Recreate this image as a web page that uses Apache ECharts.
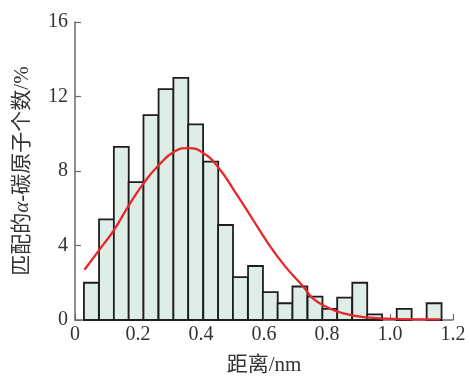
<!DOCTYPE html>
<html>
<head>
<meta charset="utf-8">
<script src="https://cdn.jsdelivr.net/npm/echarts@6/dist/echarts.min.js"></script>
<style>html,body{margin:0;padding:0;background:#fff}#c{width:470px;height:381px}</style>
</head>
<body>
<div id="c"></div>
<script>
// Histogram bins (centre in nm) and percentages
const binCenters = [0.052, 0.100, 0.147, 0.194, 0.241, 0.289, 0.336, 0.383, 0.431, 0.478, 0.525, 0.573,
                    0.620, 0.667, 0.714, 0.762, 0.809, 0.856, 0.904, 0.951, 0.998, 1.045, 1.093, 1.140];
const binWidth = 0.0473;
const binValues = [2.0, 5.4, 9.3, 7.4, 11.0, 12.4, 13.0, 10.5, 8.5, 5.1, 2.3, 2.9,
                   1.5, 0.9, 1.8, 1.25, 0.6, 1.2, 2.0, 0.3, 0, 0.6, 0, 0.9];
// Fitted curve
const fitX = [0.030, 0.076, 0.122, 0.169, 0.217, 0.264, 0.317, 0.360, 0.407, 0.455, 0.508, 0.561,
              0.614, 0.667, 0.725, 0.757, 0.799, 0.852, 0.926, 1.032, 1.159];
const fitY = [2.70, 3.74, 4.79, 6.10, 7.32, 8.28, 9.06, 9.23, 8.97, 8.19, 6.88, 5.49,
              4.09, 2.88, 1.79, 1.13, 0.70, 0.35, 0.14, 0.05, 0.03];
const xTicks = {min: 0, max: 1.2, interval: 0.2};
const yTicks = {min: 0, max: 16, interval: 4};
const xName = '距离/nm';
const yName = '匹配的{a|α}-碳原子个数/%';

const chart = echarts.init(document.getElementById('c'), null, {renderer: 'canvas'});
const serif = 'Liberation Serif, "Noto Sans CJK SC", serif';
const axisCommon = {
  axisLine: {show: true, lineStyle: {color: '#6a6a6a', width: 1.5}},
  axisTick: {show: true, inside: true, length: 6, lineStyle: {color: '#6a6a6a', width: 1.2}},
  splitLine: {show: false},
  axisLabel: {color: '#333', fontSize: 20, fontFamily: serif},
  nameTextStyle: {color: '#333', fontSize: 21, fontFamily: serif}
};
chart.setOption({
  animation: false,
  backgroundColor: '#fff',
  grid: {left: 75, right: 17, top: 22, bottom: 53, containLabel: false},
  xAxis: Object.assign({}, axisCommon, {
    type: 'value', min: xTicks.min, max: xTicks.max, interval: xTicks.interval,
    name: xName, nameLocation: 'middle', nameGap: 35,
    axisLabel: Object.assign({}, axisCommon.axisLabel, {margin: 5,
      formatter: v => v === 0 ? '0' : v.toFixed(1)})
  }),
  yAxis: Object.assign({}, axisCommon, {
    type: 'value', min: yTicks.min, max: yTicks.max, interval: yTicks.interval,
    name: yName, nameLocation: 'middle', nameGap: 42, nameRotate: 90,
    nameTextStyle: Object.assign({}, axisCommon.nameTextStyle, {
      rich: {a: {fontStyle: 'italic', fontSize: 21, fontFamily: serif, color: '#333'}}
    }),
    axisLabel: Object.assign({}, axisCommon.axisLabel, {margin: 7})
  }),
  series: [
    {
      type: 'custom',
      data: binCenters.map((c, i) => [c, binValues[i]]),
      renderItem: function (params, api) {
        const c = api.value(0), v = api.value(1);
        if (!v) return null;
        const p0 = api.coord([c - binWidth / 2, v]);
        const p1 = api.coord([c + binWidth / 2, 0]);
        return {
          type: 'rect',
          shape: {x: p0[0], y: p0[1], width: p1[0] - p0[0], height: p1[1] - p0[1]},
          style: {fill: '#deede6', stroke: '#1e1e1e', lineWidth: 1.8}
        };
      },
      z: 2
    },
    {
      type: 'line',
      data: fitX.map((x, i) => [x, fitY[i]]),
      smooth: true,
      showSymbol: false,
      lineStyle: {color: '#e8262b', width: 2.3},
      z: 3
    }
  ]
});
</script>
</body>
</html>
